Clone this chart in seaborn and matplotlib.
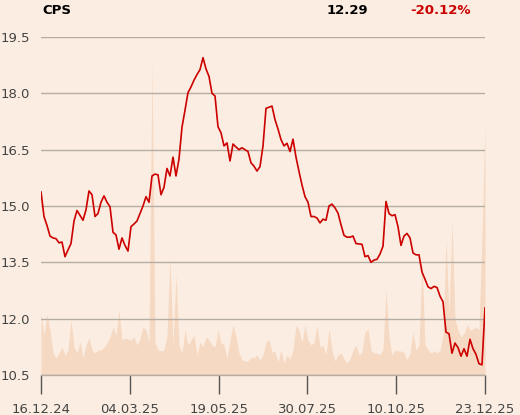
import numpy as np
import pandas as pd
import seaborn as sns
import matplotlib
matplotlib.use("Agg")
import matplotlib.pyplot as plt

# closing price, sampled every ~1.7 trading days
price = [15.38, 14.72, 14.48, 14.20, 14.15, 14.13, 14.02, 14.04, 13.65, 13.83,
         14.00, 14.60, 14.88, 14.75, 14.62, 14.90, 15.40, 15.30, 14.72, 14.80,
         15.10, 15.27, 15.10, 14.98, 14.30, 14.23, 13.85, 14.15, 13.95, 13.80,
         14.45, 14.52, 14.60, 14.80, 15.00, 15.25, 15.10, 15.80, 15.85, 15.83,
         15.30, 15.50, 16.00, 15.80, 16.30, 15.80, 16.25, 17.10, 17.55, 18.02,
         18.17, 18.35, 18.50, 18.63, 18.95, 18.65, 18.45, 18.00, 17.93, 17.11,
         16.95, 16.60, 16.68, 16.20, 16.65, 16.57, 16.50, 16.55, 16.50, 16.45,
         16.15, 16.06, 15.93, 16.05, 16.60, 17.60, 17.63, 17.66, 17.30, 17.05,
         16.77, 16.60, 16.67, 16.45, 16.78, 16.30, 15.92, 15.56, 15.25, 15.10,
         14.72, 14.72, 14.68, 14.55, 14.65, 14.62, 15.00, 15.05, 14.95, 14.81,
         14.50, 14.22, 14.17, 14.17, 14.20, 14.00, 13.99, 13.98, 13.65, 13.68,
         13.50, 13.56, 13.58, 13.72, 13.93, 15.12, 14.80, 14.74, 14.77, 14.45,
         13.95, 14.20, 14.27, 14.15, 13.75, 13.70, 13.70, 13.24, 13.05, 12.85,
         12.80, 12.86, 12.83, 12.60, 12.45, 11.64, 11.60, 11.08, 11.35, 11.23,
         11.00, 11.20, 11.00, 11.45, 11.20, 11.05, 10.80, 10.77, 12.29]

# traded volume (thousands), same sampling
volume = [61, 40, 61, 45, 22, 17, 22, 28, 20, 25,
          55, 28, 22, 33, 17, 30, 37, 25, 22, 25,
          25, 28, 32, 38, 48, 40, 65, 35, 37, 36,
          35, 38, 30, 36, 48, 45, 32, 313, 32, 25,
          24, 25, 40, 117, 30, 100, 30, 22, 45, 30,
          35, 40, 20, 33, 28, 38, 35, 30, 28, 45,
          32, 30, 17, 35, 50, 38, 22, 15, 14, 14,
          18, 17, 20, 15, 20, 33, 35, 23, 24, 13,
          25, 12, 20, 16, 25, 50, 45, 32, 50, 35,
          30, 32, 50, 28, 30, 20, 46, 25, 14, 20,
          22, 16, 12, 16, 25, 30, 20, 23, 43, 46,
          25, 22, 22, 20, 26, 85, 38, 20, 25, 24,
          24, 22, 15, 22, 43, 25, 30, 112, 30, 25,
          22, 24, 22, 25, 40, 135, 60, 153, 55, 45,
          38, 42, 50, 45, 46, 48, 45, 140, 250]

date_labels = ["16.12.24", "04.03.25", "19.05.25", "30.07.25", "10.10.25", "23.12.25"]
y_ticks = [10.5, 12.0, 13.5, 15.0, 16.5, 18.0, 19.5]

ticker = "CPS"
last_price = "12.29"
change = "-20.12%"

bg = "#fbede1"
grid_c = "#b5aca4"
red = "#cc0000"

df = pd.DataFrame({"i": np.arange(len(price)), "price": price, "volume": volume})
n = len(df) - 1

sns.set_style("white")
plt.rcParams["font.family"] = ["DejaVu Sans"]

fig = plt.figure(figsize=(5.2, 4.15), dpi=100, facecolor=bg)
ax = fig.add_axes([41 / 520, 40 / 415, 444 / 520, 338 / 415])
axv = ax.twinx()
axv.set_zorder(ax.get_zorder() - 1)
ax.patch.set_visible(False)
axv.patch.set_facecolor(bg)

# volume area
axv.fill_between(df["i"], 0, df["volume"], color="#f6d9c3", linewidth=0)
axv.set_ylim(0, 338)
axv.set_yticks([])
for s in axv.spines.values():
    s.set_visible(False)

# price line
sns.lineplot(data=df, x="i", y="price", ax=ax, color=red, linewidth=1.2)
ax.set_xlim(0, n)
ax.set_ylim(10.5, 19.5)
ax.set_yticks(y_ticks)
ax.set_yticklabels([f"{v:.1f}" for v in y_ticks])
ax.set_xticks(np.linspace(0, n, len(date_labels)))
ax.set_xticklabels(date_labels)
ax.set_xlabel("")
ax.set_ylabel("")
ax.grid(axis="y", color=grid_c, linewidth=1)
ax.grid(axis="x", visible=False)
for s in ["top", "right", "left"]:
    ax.spines[s].set_visible(False)
ax.spines["bottom"].set_color(grid_c)
ax.spines["bottom"].set_linewidth(1)
ax.tick_params(axis="y", left=False, length=0, pad=8, labelsize=9.5,
               labelcolor="#444444")
ax.tick_params(axis="x", bottom=True, length=14, width=1, color="#555555",
               pad=6, labelsize=9.5, labelcolor="#444444", direction="out")

fig.text(42 / 520, 1 - 10 / 415, ticker, fontsize=9.5, fontweight="bold",
         color="black", va="center", ha="left")
fig.text(327 / 520, 1 - 11 / 415, last_price, fontsize=9.5, fontweight="bold",
         color="black", va="center", ha="left")
fig.text(410 / 520, 1 - 11 / 415, change, fontsize=9.5, fontweight="bold",
         color=red, va="center", ha="left")

fig.savefig("out.png", dpi=100, facecolor=bg)
